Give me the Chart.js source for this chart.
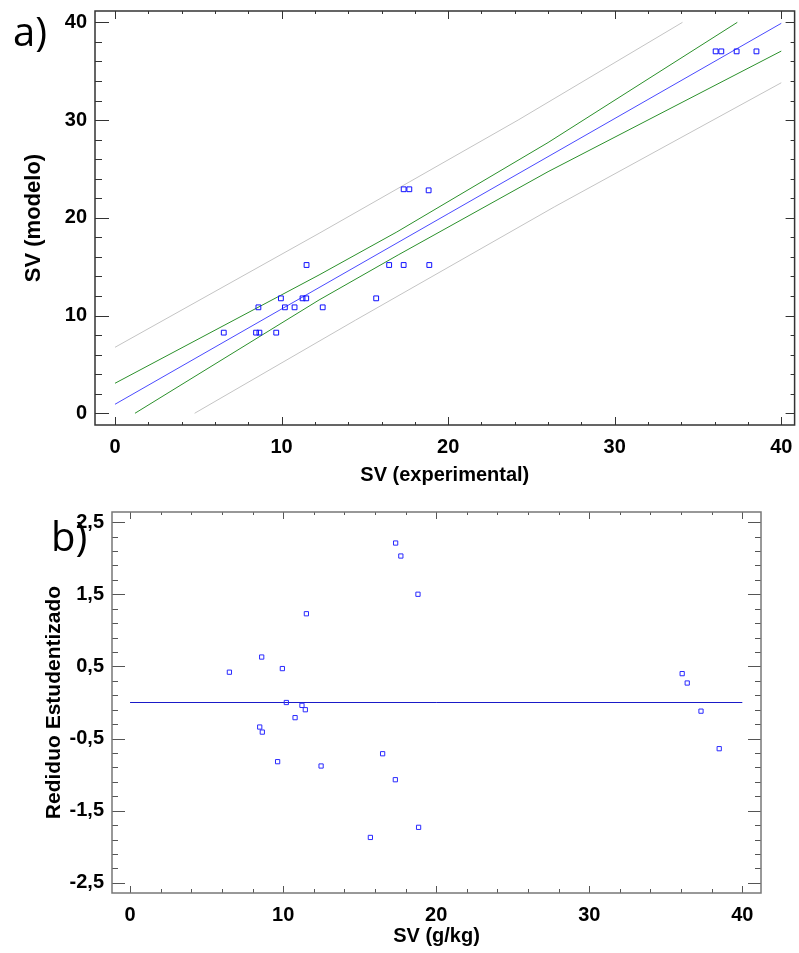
<!DOCTYPE html>
<html>
<head>
<meta charset="utf-8">
<script src="https://cdn.jsdelivr.net/npm/chart.js"></script>
<style>
  body { margin: 0; background: #fff; }
  #wrap { position: relative; width: 799px; height: 953px; }
  canvas { position: absolute; left: 0; }
  .tag { position: absolute; font-family: "Open Sans", sans-serif; font-size: 40px; line-height: 40px; color: #000; }
</style>
</head>
<body>
<div id="wrap">
  <canvas id="chartA" width="799" height="490" style="top:0"></canvas>
  <canvas id="chartB" width="799" height="463" style="top:490px"></canvas>
  <div class="tag" style="left:13px; top:11px;">a)</div>
  <div class="tag" style="left:51px; top:516px;">b)</div>
</div>
<script>
// a) SV experimental vs SV modelo
const expSV   = [6.53, 8.47, 8.67, 9.68, 8.61, 9.96, 10.2, 10.78, 11.26, 11.48, 11.5, 12.47,
                 15.68, 16.46, 17.33, 17.67, 18.83, 17.33, 18.87, 36.06, 36.4, 37.32, 38.51];
const modelSV = [8.25, 8.25, 8.25, 8.25, 10.84, 11.76, 10.84, 10.84, 11.76, 11.76, 15.17, 10.84,
                 11.76, 15.17, 22.92, 22.92, 22.81, 15.17, 15.17, 37.03, 37.03, 37.03, 37.03];

const fitX = [0, 40];
const fitY = [0.92, 39.9];
const confUpX = [0, 12.25, 16.92, 26.0, 37.36];
const confUpY = [3.07, 14.15, 18.55, 27.7, 40.0];
const confLoX = [1.2, 12.25, 17.0, 26.0, 40];
const confLoY = [0, 11.59, 16.2, 24.72, 37.06];
const predUpX = [0, 12.25, 24.2, 34.07];
const predUpY = [6.75, 18.41, 30.0, 40.0];
const predLoX = [4.78, 14.45, 26.4, 40];
const predLoY = [0, 9.54, 21.14, 33.82];

// b) residuos
const resSV  = [6.49, 8.47, 8.64, 9.64, 8.60, 9.95, 10.21, 10.78, 11.23, 11.45, 11.52, 12.48,
                15.7, 16.5, 17.35, 17.69, 18.81, 17.33, 18.85, 36.07, 36.4, 37.3, 38.49];
const resVal = [0.42, -0.34, -0.41, -0.82, 0.63, 0.47, 0.0, -0.21, -0.04, -0.10, 1.23, -0.88,
                -1.87, -0.71, 2.21, 2.03, 1.50, -1.07, -1.73, 0.40, 0.27, -0.12, -0.64];
const zeroX = [0, 40];
const zeroY = [0, 0];

// ticks
const ticksA = [0, 10, 20, 30, 40];
const minorA = [0, 2, 4, 6, 8, 10, 12, 14, 16, 18, 20, 22, 24, 26, 28, 30, 32, 34, 36, 38, 40];
const xTicksB = [0, 10, 20, 30, 40];
const xMinorB = [0, 2, 4, 6, 8, 10, 12, 14, 16, 18, 20, 22, 24, 26, 28, 30, 32, 34, 36, 38, 40];
const yTicksB = [2.5, 1.5, 0.5, -0.5, -1.5, -2.5];
const yLabelsB = ['2,5', '1,5', '0,5', '-0,5', '-1,5', '-2,5'];
const yMinorB = [2.5, 2.3, 2.1, 1.9, 1.7, 1.5, 1.3, 1.1, 0.9, 0.7, 0.5, 0.3, 0.1, -0.1, -0.3,
                 -0.5, -0.7, -0.9, -1.1, -1.3, -1.5, -1.7, -1.9, -2.1, -2.3, -2.5];

const pts = (xs, ys) => xs.map((x, i) => ({ x: x, y: ys[i] }));

Chart.defaults.font.family = '"Liberation Sans", Arial, sans-serif';
Chart.defaults.color = '#000';

function framePlugin(cfg) {
  return {
    id: 'frame',
    afterDraw(chart) {
      const ctx = chart.ctx, a = chart.chartArea;
      const xs = chart.scales.x, ys = chart.scales.y;
      ctx.save();
      ctx.strokeStyle = cfg.tickColor;
      ctx.lineWidth = 1;
      ctx.beginPath();
      const tick = (vals, len, side) => vals.forEach(v => {
        if (side === 'bottom' || side === 'top') {
          const px = Math.round(xs.getPixelForValue(v)) + 0.5;
          const y0 = side === 'bottom' ? a.bottom : a.top;
          const dir = side === 'bottom' ? -1 : 1;
          ctx.moveTo(px, y0); ctx.lineTo(px, y0 + dir * len);
        } else {
          const py = Math.round(ys.getPixelForValue(v)) + 0.5;
          const x0 = side === 'left' ? a.left : a.right;
          const dir = side === 'left' ? 1 : -1;
          ctx.moveTo(x0, py); ctx.lineTo(x0 + dir * len, py);
        }
      });
      tick(cfg.xMinor, cfg.xMinorLen[0], 'bottom');
      tick(cfg.xMajor, cfg.xMajorLen[0], 'bottom');
      tick(cfg.xMinor, cfg.xMinorLen[1], 'top');
      tick(cfg.xMajor, cfg.xMajorLen[1], 'top');
      tick(cfg.yMinor, cfg.yMinorLen[0], 'left');
      tick(cfg.yMajor, cfg.yMajorLen[0], 'left');
      tick(cfg.yMinor, cfg.yMinorLen[1], 'right');
      tick(cfg.yMajor, cfg.yMajorLen[1], 'right');
      ctx.stroke();
      ctx.strokeStyle = cfg.frameColor;
      ctx.lineWidth = 1.5;
      ctx.strokeRect(a.left, a.top, a.right - a.left, a.bottom - a.top);
      ctx.restore();
    }
  };
}

function fixAxis(size, horizontal) {
  return s => {
    if (horizontal) s.height = size; else s.width = size;
    s.paddingTop = 0; s.paddingBottom = 0; s.paddingLeft = 0; s.paddingRight = 0;
  };
}

const pointStyle = {
  pointStyle: 'rect', borderColor: '#1010ff', backgroundColor: 'rgba(0,0,0,0)',
  borderWidth: 1, pointRadius: 3.4, pointHoverRadius: 3.4
};
const lineStyle = (color, w) => ({
  showLine: true, borderColor: color, borderWidth: w, pointRadius: 0, pointHoverRadius: 0, fill: false
});

new Chart(document.getElementById('chartA'), {
  type: 'scatter',
  data: {
    datasets: [
      Object.assign({ data: pts(expSV, modelSV) }, pointStyle),
      Object.assign({ data: pts(fitX, fitY) }, lineStyle('#4a4aff', 1)),
      Object.assign({ data: pts(confUpX, confUpY) }, lineStyle('#2b902b', 1)),
      Object.assign({ data: pts(confLoX, confLoY) }, lineStyle('#2b902b', 1)),
      Object.assign({ data: pts(predUpX, predUpY) }, lineStyle('#c4c4c4', 1)),
      Object.assign({ data: pts(predLoX, predLoY) }, lineStyle('#c4c4c4', 1))
    ]
  },
  options: {
    responsive: false, animation: false,
    layout: { padding: { top: 11, right: 1, left: 0, bottom: 0 } },
    plugins: { legend: { display: false }, tooltip: { enabled: false } },
    scales: {
      x: {
        min: -1.2, max: 40.8,
        grid: { display: false, drawTicks: false }, border: { display: false },
        afterBuildTicks: s => { s.ticks = ticksA.map(v => ({ value: v })); },
        afterFit: fixAxis(65, true),
        ticks: { padding: 10, font: { size: 20, weight: 'bold' }, color: '#000' },
        title: { display: true, text: 'SV (experimental)', font: { size: 20, weight: 'bold' }, padding: { top: 0, bottom: 3 }, color: '#000' }
      },
      y: {
        min: -1.2, max: 41.16,
        grid: { display: false, drawTicks: false }, border: { display: false },
        afterBuildTicks: s => { s.ticks = ticksA.map(v => ({ value: v })); },
        afterFit: fixAxis(95, false),
        ticks: { padding: 8, font: { size: 20, weight: 'bold' }, color: '#000' },
        title: { display: true, text: 'SV (modelo)', font: { size: 22, weight: 'bold' }, padding: { top: 21, bottom: 0 }, color: '#000' }
      }
    }
  },
  plugins: [framePlugin({
    tickColor: '#333', frameColor: '#333',
    xMajor: ticksA, xMinor: minorA, yMajor: ticksA, yMinor: minorA,
    xMajorLen: [8, 8], xMinorLen: [3, 3], yMajorLen: [14, 9], yMinorLen: [7, 4]
  })]
});

new Chart(document.getElementById('chartB'), {
  type: 'scatter',
  data: {
    datasets: [
      Object.assign({ data: pts(resSV, resVal) }, pointStyle, { pointRadius: 3, borderColor: '#2a2aff' }),
      Object.assign({ data: pts(zeroX, zeroY) }, lineStyle('#1a1ac8', 1))
    ]
  },
  options: {
    responsive: false, animation: false,
    layout: { padding: { top: 22, right: 38, left: 0, bottom: 0 } },
    plugins: { legend: { display: false }, tooltip: { enabled: false } },
    scales: {
      x: {
        min: -1.18, max: 41.22,
        grid: { display: false, drawTicks: false }, border: { display: false },
        afterBuildTicks: s => { s.ticks = xTicksB.map(v => ({ value: v })); },
        afterFit: fixAxis(60, true),
        ticks: { padding: 10, font: { size: 20, weight: 'bold' }, color: '#000' },
        title: { display: true, text: 'SV (g/kg)', font: { size: 20, weight: 'bold' }, padding: { top: 0, bottom: 5 }, color: '#000' }
      },
      y: {
        min: -2.64, max: 2.64,
        grid: { display: false, drawTicks: false }, border: { display: false },
        afterBuildTicks: s => { s.ticks = yTicksB.map(v => ({ value: v })); },
        afterFit: fixAxis(112, false),
        ticks: {
          padding: 8, font: { size: 20, weight: 'bold' }, color: '#000',
          callback: v => yLabelsB[yTicksB.indexOf(v)]
        },
        title: { display: true, text: 'Rediduo Estudentizado', font: { size: 21, weight: 'bold' }, padding: { top: 42, bottom: 0 }, color: '#000' }
      }
    }
  },
  plugins: [framePlugin({
    tickColor: '#555', frameColor: '#777',
    xMajor: xTicksB, xMinor: xMinorB, yMajor: yTicksB, yMinor: yMinorB,
    xMajorLen: [7, 7], xMinorLen: [4, 3], yMajorLen: [13, 13], yMinorLen: [6, 6]
  })]
});
</script>
</body>
</html>
